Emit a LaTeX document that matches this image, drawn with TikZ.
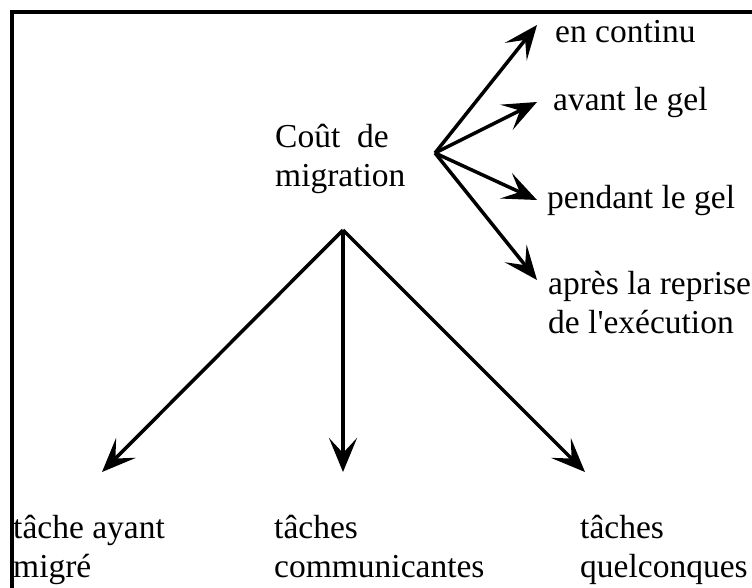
\documentclass[tikz,border=0pt]{standalone}
\usepackage{fontspec}
\setmainfont{Liberation Serif}
\usetikzlibrary{arrows.meta}
\begin{document}
\begin{tikzpicture}[x=1pt,y=-1pt,
  lbl/.style={inner sep=0pt,anchor=base west,align=left,font=\fontsize{33.5}{39}\selectfont},
  arr/.style={line width=3.5pt,-{Stealth[length=34pt,width=28pt,inset=15pt]}},
  frame/.style={line width=3.5pt}]
\useasboundingbox (0,0) rectangle (752,587);
\draw[frame] (12,590) -- (12,12) -- (755,12);
% text nodes (base = baseline of last line)
\node[lbl] (cout) at (275,186) {Coût~ de\\migration};
\node[lbl] (cont) at (555,42) {en continu};
\node[lbl] (avant) at (553,110) {avant le gel};
\node[lbl] (pend) at (547,208) {pendant le gel};
\node[lbl] (apres) at (548,333) {après la reprise\\de l\textquotesingle exécution};
\node[lbl] (migre) at (13,577) {tâche ayant\\migré};
\node[lbl] (comm) at (274,577) {tâches\\communicantes};
\node[lbl] (quel) at (580,577) {tâches\\quelconques};
% hubs and tips
\coordinate (h1) at (435,153);
\coordinate (h2) at (343,230);
\coordinate (t1) at (537,25);
\coordinate (t2) at (537,102);
\coordinate (t3) at (537,200);
\coordinate (t4) at (537,280);
\coordinate (b1) at (102,472);
\coordinate (b2) at (343,472);
\coordinate (b3) at (585,472);
\draw[arr] (h1) -- (t1);
\draw[arr] (h1) -- (t2);
\draw[arr] (h1) -- (t3);
\draw[arr] (h1) -- (t4);
\draw[arr] (h2) -- (b1);
\draw[arr] (h2) -- (b2);
\draw[arr] (h2) -- (b3);
\end{tikzpicture}
\end{document}
